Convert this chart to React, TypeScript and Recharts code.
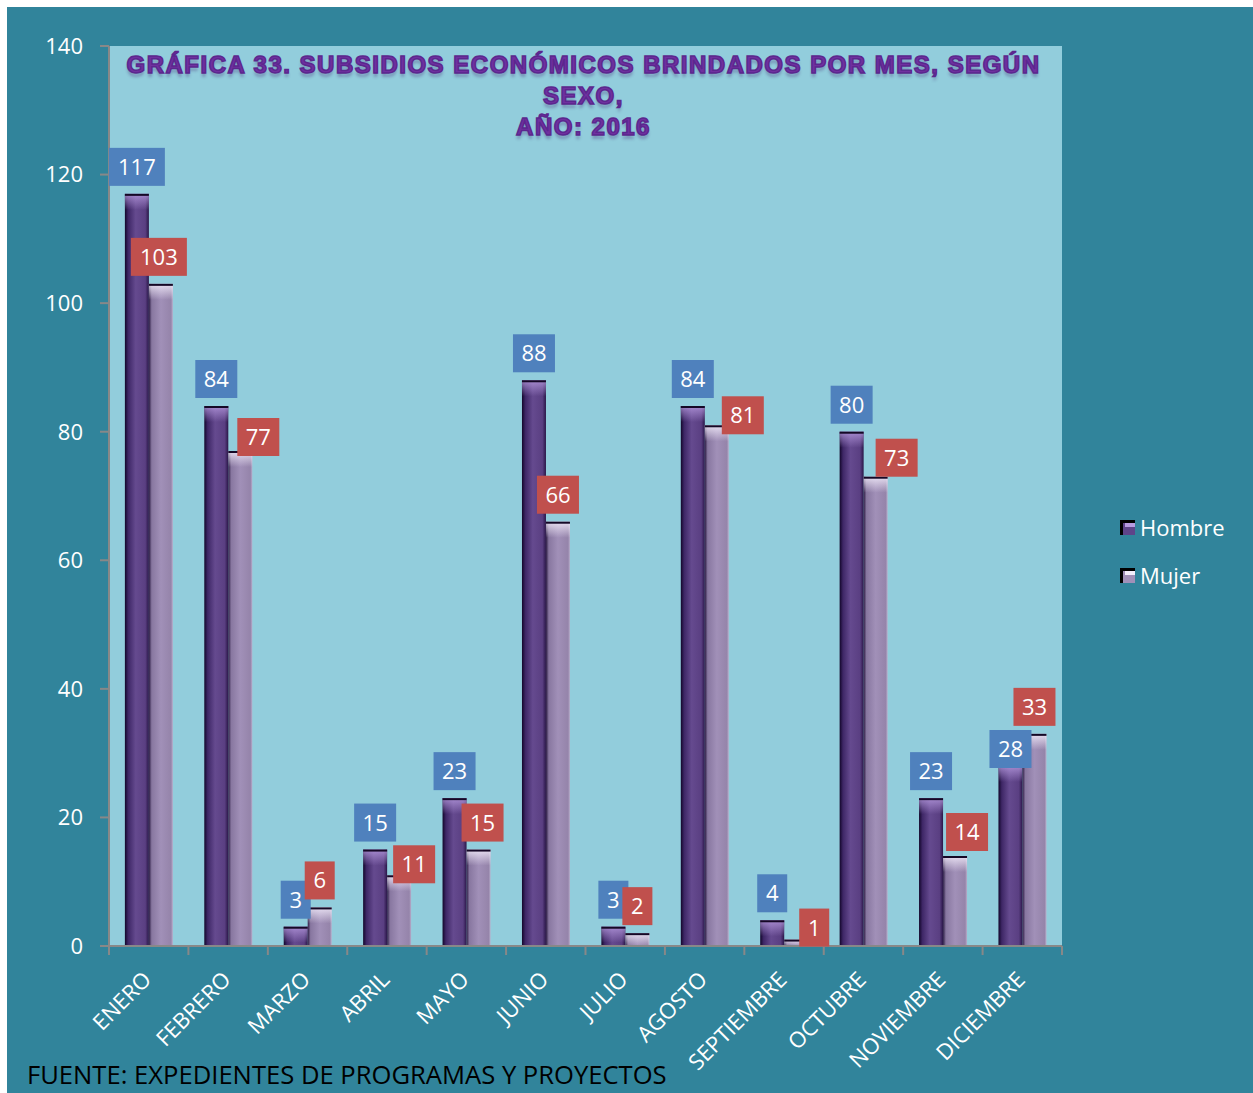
import React from 'react';
import { BarChart, Bar, XAxis, YAxis, CartesianGrid, LabelList } from 'recharts';

// categorías y series
const months = ['ENERO', 'FEBRERO', 'MARZO', 'ABRIL', 'MAYO', 'JUNIO', 'JULIO', 'AGOSTO', 'SEPTIEMBRE', 'OCTUBRE', 'NOVIEMBRE', 'DICIEMBRE'];
const hombre = [117, 84, 3, 15, 23, 88, 3, 84, 4, 80, 23, 28];
const mujer = [103, 77, 6, 11, 15, 66, 2, 81, 1, 73, 14, 33];
const yTicks = [0, 20, 40, 60, 80, 100, 120, 140];

// etiquetas movidas a mano en el original (px)
const nudgeMujer: [number, number][] = [[-2, 0], [18, 13], [0, 0], [15, 16], [4, 0], [0, 0], [0, 0], [26, 17], [18, 15], [21, 8], [12, 3], [0, 0]];
const nudgeHombre: [number, number][] = [[0, 0], [0, 0], [0, 0], [0, 0], [0, 0], [0, 0], [0, 0], [0, 0], [0, 0], [0, 0], [0, 0], [0, 10]];

const data = months.map((mes, i) => ({ mes, hombre: hombre[i], mujer: mujer[i] }));

const FONT = '"Open Sans", "Noto Sans", sans-serif';
const W = 1246;
const H = 1086;
const PLOT_W = 953;
const AXIS = '#888888';

const barShape = (fillId: string, capId: string) => (props: any) => {
  const { x, y, width, height } = props;
  if (!height || height <= 0) return <g />;
  return (
    <g>
      <rect x={x} y={y} width={width} height={height} fill={`url(#${fillId})`} />
      <rect x={x} y={y} width={width} height={Math.min(16, height)} fill={`url(#${capId})`} />
      <rect x={x} y={y} width={width} height={Math.min(2, height)} fill="#150826" />
    </g>
  );
};

const boxLabel = (color: string, nudge: [number, number][]) => (props: any) => {
  const { x, y, width, value, index } = props;
  const [dx, dy] = nudge[index] || [0, 0];
  const len = String(value).length;
  const w = len === 1 ? 30 : len === 2 ? 42 : 56;
  const cx = x + width / 2 + dx;
  const bottom = y - 8 + dy;
  return (
    <g>
      <rect x={cx - w / 2} y={bottom - 38} width={w} height={38} fill={color} />
      <text x={cx} y={bottom - 11} textAnchor="middle" fill="#ffffff" fontSize={22} fontFamily={FONT}>
        {value}
      </text>
    </g>
  );
};

const XTick = (props: any) => {
  const { x, y, payload, index } = props;
  const half = PLOT_W / months.length / 2;
  const ax = x + 4;
  const ay = y + 35;
  return (
    <g>
      <line x1={x - half} x2={x - half} y1={y} y2={y + 9} stroke={AXIS} strokeWidth={2} />
      {index === months.length - 1 && (
        <line x1={x + half} x2={x + half} y1={y} y2={y + 9} stroke={AXIS} strokeWidth={2} />
      )}
      <text x={ax} y={ay} transform={`rotate(-45 ${ax} ${ay})`} textAnchor="end" fill="#ffffff" fontSize={22} fontFamily={FONT}>
        {payload.value}
      </text>
    </g>
  );
};

const LegendIcon = ({ top, body }: { top: string; body: string }) => (
  <svg width={15} height={15} style={{ display: 'block' }}>
    <rect x={0} y={0} width={15} height={15} fill="#000" />
    <rect x={3} y={3} width={12} height={12} fill={body} />
    <rect x={5} y={3} width={10} height={4} fill={top} />
  </svg>
);

export default function App() {
  return (
    <div style={{ position: 'absolute', left: 7, top: 7, width: W, height: H, background: '#31849B' }}>
      <BarChart
        width={W}
        height={H}
        data={data}
        margin={{ top: 39, right: 191, left: 0, bottom: 47 }}
        barCategoryGap="20%"
        barGap={0}
      >
        <defs>
          <linearGradient id="gH" x1="0" y1="0" x2="1" y2="0">
            <stop offset="0%" stopColor="#12062a" />
            <stop offset="14%" stopColor="#3e2766" />
            <stop offset="45%" stopColor="#654a8f" />
            <stop offset="85%" stopColor="#5a3f82" />
            <stop offset="100%" stopColor="#2a1648" />
          </linearGradient>
          <linearGradient id="gM" x1="0" y1="0" x2="1" y2="0">
            <stop offset="0%" stopColor="#2c1c44" />
            <stop offset="12%" stopColor="#8877a0" />
            <stop offset="50%" stopColor="#a190b8" />
            <stop offset="92%" stopColor="#9584aa" />
            <stop offset="100%" stopColor="#b8aecb" />
          </linearGradient>
          <linearGradient id="capH" x1="0" y1="0" x2="0" y2="1">
            <stop offset="0%" stopColor="#b79be0" stopOpacity={0.8} />
            <stop offset="100%" stopColor="#b79be0" stopOpacity={0} />
          </linearGradient>
          <linearGradient id="capM" x1="0" y1="0" x2="0" y2="1">
            <stop offset="0%" stopColor="#f4eefc" stopOpacity={0.85} />
            <stop offset="100%" stopColor="#f4eefc" stopOpacity={0} />
          </linearGradient>
        </defs>
        <CartesianGrid fill="#92CDDC" horizontal={false} vertical={false} stroke="none" />
        <XAxis
          dataKey="mes"
          height={100}
          interval={0}
          tickSize={0}
          tickMargin={0}
          tick={<XTick />}
          axisLine={{ stroke: AXIS, strokeWidth: 2 }}
          tickLine={false}
        />
        <YAxis
          width={102}
          domain={[0, 140]}
          ticks={yTicks}
          tickSize={9}
          tickMargin={17}
          axisLine={{ stroke: AXIS, strokeWidth: 2 }}
          tickLine={{ stroke: AXIS, strokeWidth: 2 }}
          tick={{ fill: '#ffffff', fontSize: 22, fontFamily: FONT }}
        />
        <Bar dataKey="hombre" name="Hombre" isAnimationActive={false} shape={barShape('gH', 'capH')}>
          <LabelList dataKey="hombre" content={boxLabel('#4F81BD', nudgeHombre)} />
        </Bar>
        <Bar dataKey="mujer" name="Mujer" isAnimationActive={false} shape={barShape('gM', 'capM')}>
          <LabelList dataKey="mujer" content={boxLabel('#C0504D', nudgeMujer)} />
        </Bar>
      </BarChart>

      <div
        style={{
          position: 'absolute', left: 100, top: 42, width: PLOT_W, textAlign: 'center',
          fontFamily: '"Liberation Sans", Arial, sans-serif', fontWeight: 'bold', fontSize: 24,
          letterSpacing: 1.5, lineHeight: '31px', color: '#7030A0',
          WebkitTextStroke: '1.5px #5b278e',
          textShadow: '0 4px 3px rgba(60, 20, 100, 0.3)',
        }}
      >
        <div>GRÁFICA 33. SUBSIDIOS ECONÓMICOS BRINDADOS POR MES, SEGÚN</div>
        <div>SEXO,</div>
        <div>AÑO: 2016</div>
      </div>

      <div style={{ position: 'absolute', left: 1113, top: 504, fontFamily: FONT, fontSize: 22, color: '#ffffff' }}>
        <div style={{ display: 'flex', alignItems: 'center', gap: 5, height: 32 }}>
          <LegendIcon top="#b79be0" body="#5e4489" />
          <span>Hombre</span>
        </div>
        <div style={{ display: 'flex', alignItems: 'center', gap: 5, height: 32, marginTop: 16 }}>
          <LegendIcon top="#f4eefc" body="#a190b8" />
          <span>Mujer</span>
        </div>
      </div>

      <div style={{ position: 'absolute', left: 20, top: 1055, fontFamily: FONT, fontSize: 25.6, lineHeight: '26px', color: '#000000', whiteSpace: 'nowrap' }}>
        FUENTE: EXPEDIENTES DE PROGRAMAS Y PROYECTOS
      </div>
    </div>
  );
}
